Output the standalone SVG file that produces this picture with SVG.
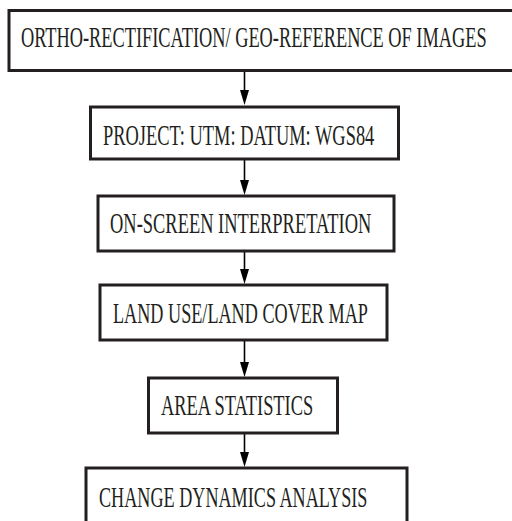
<svg xmlns="http://www.w3.org/2000/svg" width="512" height="521" viewBox="0 0 512 521">
<style>
.box{fill:#fff;stroke:#231f20;stroke-width:3}
.lbl{font-family:"Liberation Serif","Times New Roman",serif;font-size:29px;fill:#231f20}
.conn{stroke:#000;stroke-width:1.6;fill:none}
.head{fill:#000}
</style>
<rect width="512" height="521" fill="#fff"/>
<g id="connectors">
<line class="conn" x1="244.5" y1="72" x2="244.5" y2="90"/>
<path class="head" d="M240,90 L249,90 L244.5,105 Z"/>
<line class="conn" x1="244.5" y1="160" x2="244.5" y2="180"/>
<path class="head" d="M240,180 L249,180 L244.5,195 Z"/>
<line class="conn" x1="244.5" y1="252" x2="244.5" y2="269"/>
<path class="head" d="M240,269 L249,269 L244.5,284 Z"/>
<line class="conn" x1="244.5" y1="341" x2="244.5" y2="362"/>
<path class="head" d="M240,362 L249,362 L244.5,377 Z"/>
<line class="conn" x1="244.5" y1="434" x2="244.5" y2="452"/>
<path class="head" d="M240,452 L249,452 L244.5,467 Z"/>
</g>
<g id="n1">
<rect class="box" x="9" y="10.5" width="515" height="60"/>
<text class="lbl" transform="translate(21,47) scale(0.632,1)">ORTHO-RECTIFICATION/ GEO-REFERENCE OF IMAGES</text>
</g>
<g id="n2">
<rect class="box" x="90.5" y="107" width="308" height="52"/>
<text class="lbl" transform="translate(103,145) scale(0.635,1)">PROJECT: UTM: DATUM: WGS84</text>
</g>
<g id="n3">
<rect class="box" x="98" y="196" width="296" height="55"/>
<text class="lbl" transform="translate(110,233) scale(0.636,1)">ON-SCREEN INTERPRETATION</text>
</g>
<g id="n4">
<rect class="box" x="100" y="285" width="287" height="55"/>
<text class="lbl" transform="translate(113,323) scale(0.627,1)">LAND USE/LAND COVER MAP</text>
</g>
<g id="n5">
<rect class="box" x="148.5" y="378" width="189" height="55"/>
<text class="lbl" transform="translate(161,415) scale(0.634,1)">AREA STATISTICS</text>
</g>
<g id="n6">
<rect class="box" x="86" y="468" width="321" height="70"/>
<text class="lbl" transform="translate(99,507) scale(0.626,1)">CHANGE DYNAMICS ANALYSIS</text>
</g>
</svg>
